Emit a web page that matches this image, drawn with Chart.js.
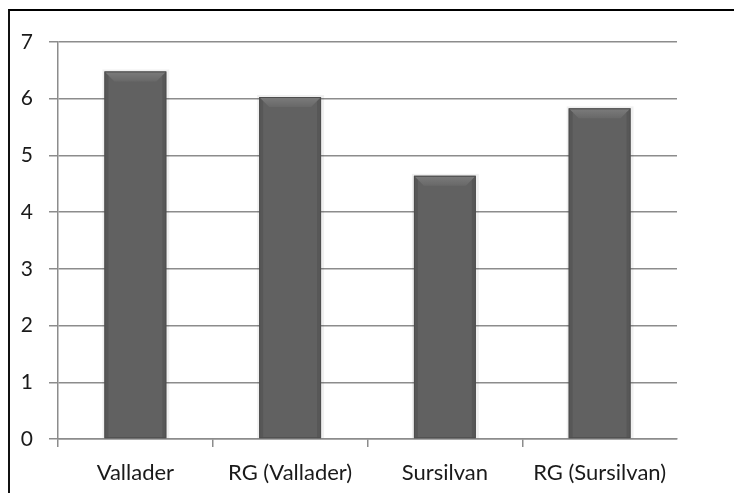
<!DOCTYPE html>
<html>
<head>
<meta charset="utf-8">
<script src="https://cdn.jsdelivr.net/npm/chart.js@4"></script>
<style>
  html, body { margin: 0; padding: 0; background: #fff; }
  #wrap { position: relative; width: 734px; height: 493px; overflow: hidden; }
  #frame { position: absolute; left: 8px; top: 9px; width: 740px; height: 500px;
           border-top: 2px solid #000; border-left: 2px solid #111; pointer-events: none; }
  canvas { position: absolute; left: 0; top: 0; }
</style>
</head>
<body>
<div id="wrap">
  <canvas id="c" width="734" height="493"></canvas>
  <div id="frame"></div>
</div>
<script>
const categories = ["Vallader", "RG (Vallader)", "Sursilvan", "RG (Sursilvan)"];
const values = [6.48, 6.03, 4.64, 5.83];
const yTicks = [0, 1, 2, 3, 4, 5, 6, 7];

const bevelPlugin = {
  id: 'bevel',
  beforeDatasetsDraw(chart) {
    const ctx = chart.ctx;
    chart.getDatasetMeta(0).data.forEach(bar => {
      const p = bar.getProps(['x', 'y', 'base', 'width'], true);
      const l = p.x - p.width / 2, r = p.x + p.width / 2;
      ctx.save();
      ctx.fillStyle = 'rgba(0,0,0,0.06)';
      ctx.fillRect(l - 2, p.y - 2, p.width + 5, p.base - p.y + 2);
      ctx.restore();
    });
  },
  afterDatasetsDraw(chart) {
    const ctx = chart.ctx;
    chart.getDatasetMeta(0).data.forEach(bar => {
      const p = bar.getProps(['x', 'y', 'base', 'width'], true);
      const l = p.x - p.width / 2, r = p.x + p.width / 2, t = p.y, b = p.base;
      const d = 10;
      ctx.save();
      const g = ctx.createLinearGradient(0, t, 0, t + d);
      g.addColorStop(0, '#7c7c7c');
      g.addColorStop(1, '#686868');
      ctx.fillStyle = g;
      ctx.beginPath();
      ctx.moveTo(l, t); ctx.lineTo(r, t); ctx.lineTo(r - d, t + d); ctx.lineTo(l + d, t + d);
      ctx.closePath(); ctx.fill();
      ctx.fillStyle = 'rgba(0,0,0,0.10)';
      ctx.beginPath();
      ctx.moveTo(l, t); ctx.lineTo(l + 4, t + 4); ctx.lineTo(l + 4, b); ctx.lineTo(l, b); ctx.closePath(); ctx.fill();
      ctx.beginPath();
      ctx.moveTo(r, t); ctx.lineTo(r - 4, t + 4); ctx.lineTo(r - 4, b); ctx.lineTo(r, b); ctx.closePath(); ctx.fill();
      ctx.strokeStyle = '#4e4e4e';
      ctx.lineWidth = 1;
      ctx.strokeRect(l + 0.5, t + 0.5, p.width - 1, b - t - 1);
      ctx.restore();
    });
  }
};

new Chart(document.getElementById('c'), {
  type: 'bar',
  data: {
    labels: categories,
    datasets: [{
      data: values,
      backgroundColor: '#616161',
      borderWidth: 0,
      barPercentage: 0.4,
      categoryPercentage: 1.0
    }]
  },
  options: {
    responsive: false,
    animation: false,
    devicePixelRatio: 1,
    layout: { padding: { left: 0, right: 57, top: 42, bottom: 0 } },
    plugins: { legend: { display: false }, tooltip: { enabled: false } },
    scales: {
      x: {
        grid: { display: true, drawOnChartArea: false, drawTicks: true, tickLength: 8,
                color: c => (c.index === undefined ? 'rgba(0,0,0,0)' : '#8c8c8c'), lineWidth: 1.5, offset: true },
        border: { display: true, color: '#8c8c8c', width: 1.5 },
        ticks: { color: '#1a1a1a', font: { family: 'Lato', size: 22 }, padding: 13, maxRotation: 0, autoSkip: false },
        afterFit(s) { s.height = 54; }
      },
      y: {
        min: 0, max: 7,
        afterBuildTicks(s) { s.ticks = yTicks.map(v => ({ value: v })); },
        grid: { color: '#8c8c8c', lineWidth: 1.5, tickLength: 9 },
        border: { display: true, color: '#8c8c8c', width: 1.5 },
        ticks: { color: '#1a1a1a', font: { family: 'Lato', size: 21 }, padding: 16 },
        afterFit(s) { s.width = 58; }
      }
    }
  },
  plugins: [bevelPlugin]
});
</script>
</body>
</html>
